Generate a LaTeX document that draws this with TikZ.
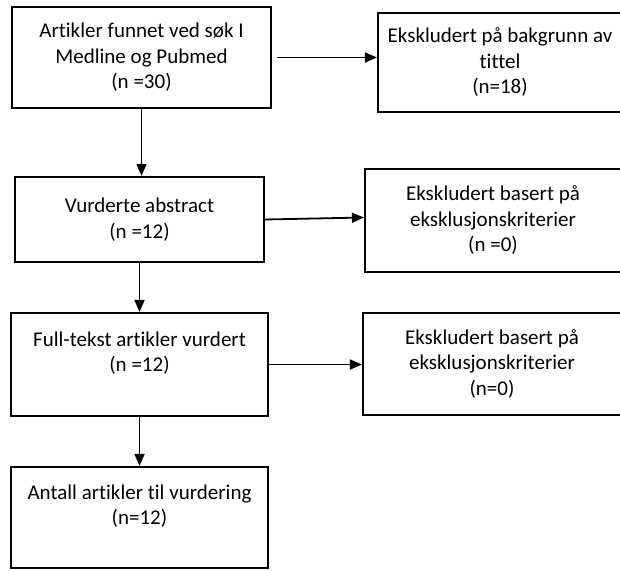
\documentclass[tikz,border=0pt]{standalone}
\usepackage{fontspec}
\setmainfont{Carlito}[Ligatures=CommonOff]
\usetikzlibrary{arrows.meta}
\begin{document}
\begin{tikzpicture}[x=1pt,y=-1pt,
  box/.style={draw=black,line width=2.2pt,rectangle,inner sep=0pt,align=center,
    font=\fontsize{21pt}{25.5pt}\selectfont},
  arr/.style={line width=1.8pt,-{Triangle[length=12pt,width=10pt]}}]
\useasboundingbox (0,0) rectangle (620,570);
\clip (0,0) rectangle (620,570);
\fill[white] (0,0) rectangle (620,570);
\node[box,minimum width=259pt,minimum height=101pt] (b1) at (141.5,57.5)
  {Artikler funnet ved søk I\\Medline og Pubmed\\(n =30)};
\node[box,minimum width=244pt,minimum height=99pt] (b2) at (500,62.5)
  {Ekskludert på bakgrunn av\\tittel\\(n=18)};
\node[box,minimum width=249pt,minimum height=85pt] (b3) at (139.5,219.5)
  {Vurderte abstract\\(n =12)};
\node[box,minimum width=256pt,minimum height=103pt] (b4) at (493,220.5)
  {Ekskludert basert på\\eksklusjonskriterier\\(n =0)};
\node[box,minimum width=257pt,minimum height=103pt] (b5) at (139.5,364.5)
  {Full-tekst artikler vurdert\\(n =12)\\[-8pt]\strut};
\node[box,minimum width=258pt,minimum height=102pt] (b6) at (492,364)
  {Ekskludert basert på\\eksklusjonskriterier\\(n=0)};
\node[box,minimum width=257pt,minimum height=101pt] (b7) at (139.5,517.5)
  {Antall artikler til vurdering\\(n=12)\\[-8pt]\strut};
\draw[arr] ([xshift=5pt]b1.east) -- (b1.east -| b2.west);
\draw[arr] (b3.east) -- ([yshift=2pt]b3.east -| b4.west);
\draw[arr] (b5.east) -- (b5.east -| b6.west);
\draw[arr] (b1.south) -- (b1.south |- b3.north);
\draw[arr] (b3.south) -- (b3.south |- b5.north);
\draw[arr] (b5.south) -- (b5.south |- b7.north);
\end{tikzpicture}
\end{document}
